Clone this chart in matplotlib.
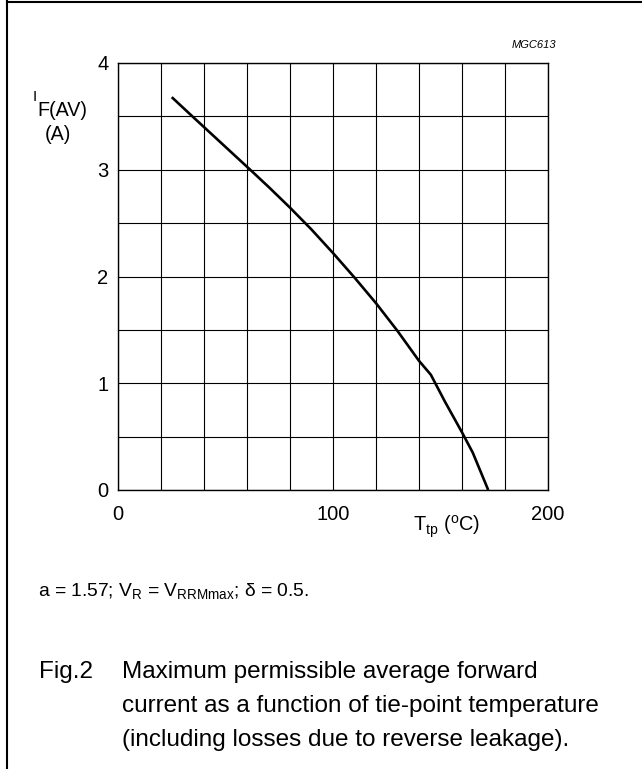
import matplotlib
matplotlib.use('Agg')
import matplotlib.pyplot as plt
from matplotlib.lines import Line2D

plt.rcParams['font.family'] = ['Liberation Sans', 'DejaVu Sans']
plt.rcParams['mathtext.fontset'] = 'custom'
plt.rcParams['mathtext.rm'] = 'Liberation Sans'

# curve
temp = [25, 34.6, 61.5, 70, 80, 90, 100, 110, 120, 130, 140, 145.5, 152, 160, 165, 172.2]
current = [3.68, 3.5, 3.0, 2.84, 2.645, 2.44, 2.22, 1.99, 1.75, 1.49, 1.21, 1.08, 0.83, 0.54, 0.35, 0.0]

x_ticks = [0, 100, 200]
y_ticks = [0, 1, 2, 3, 4]

W, H = 642, 769


def px(x, y):
    return x / W, 1 - y / H


fig = plt.figure(figsize=(W / 100, H / 100), dpi=100)
ax = fig.add_axes([118 / W, 1 - 490 / H, 430 / W, 427 / H])

ax.plot(temp, current, color='black', lw=1.9, solid_capstyle='butt')
ax.set_xlim(0, 200)
ax.set_ylim(0, 4)
ax.set_xticks(range(0, 201, 20), minor=True)
ax.set_yticks([i * 0.5 for i in range(9)], minor=True)
ax.set_xticks(x_ticks)
ax.set_yticks(y_ticks)
ax.grid(True, which='both', color='black', lw=0.8)
ax.tick_params(which='both', length=0, labelsize=14.5)
ax.tick_params(axis='x', pad=11)
ax.tick_params(axis='y', pad=7)
for s in ax.spines.values():
    s.set_linewidth(1.0)

# axis labels
fig.text(*px(33, 97), 'I', fontsize=11, ha='left', va='center')
fig.text(*px(37, 110), 'F(AV)', fontsize=14.2, ha='left', va='center')
fig.text(*px(58, 134), '(A)', fontsize=14.2, ha='center', va='center')
fig.text(*px(413, 527), r'T$_\mathregular{tp}$ ($^\mathregular{o}$C)', fontsize=14.4,
         ha='left', va='center')
fig.text(*px(556, 45), 'MGC613', fontsize=8, style='italic', ha='right', va='center')

fig.text(*px(38, 592), r'a = 1.57; V$_\mathregular{R}$ = V$_\mathregular{RRMmax}$; $\mathregular{\delta}$ = 0.5.',
         fontsize=13.9, ha='left', va='center')

fig.text(*px(39, 672), 'Fig.2', fontsize=17.5, ha='left', va='center')
caption = ['Maximum permissible average forward',
           'current as a function of tie-point temperature',
           '(including losses due to reverse leakage).']
for i, line in enumerate(caption):
    fig.text(*px(122, 672 + 34 * i), line, fontsize=17.5, ha='left', va='center')

# frame around the figure
fig.add_artist(Line2D([7 / W, 7 / W], [0, 1], color='black', lw=1.5))
fig.add_artist(Line2D([7 / W, 1], [1 - 2 / H, 1 - 2 / H], color='black', lw=1.5))

fig.savefig('out.png', dpi=100)
